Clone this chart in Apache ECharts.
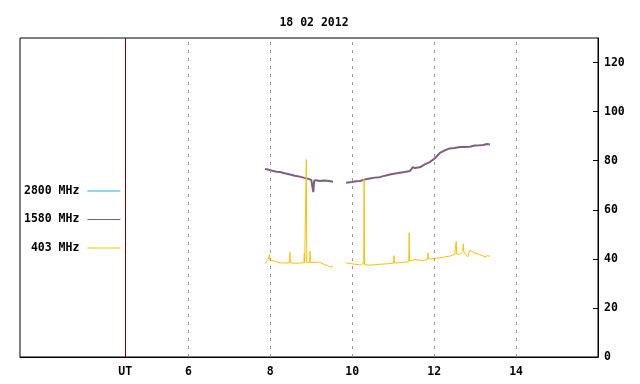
<!DOCTYPE html>
<html>
<head>
<meta charset="utf-8">
<script src="https://cdn.jsdelivr.net/npm/echarts@6/dist/echarts.min.js"></script>
<style>
    html, body {margin: 0; padding: 0; background: #fff;}
    #chartDiv {width: 640px; height: 384px;}
</style>
</head>
<body>
<div id="chartDiv"></div>
<script>
/*
* 数据
* */
var titleText = '18 02 2012';
var seriesNames = ['2800 MHz', '1580 MHz', '403 MHz'];
var seriesColors = ['#22b4c4', '#7f5f80', '#ffbf00'];
var hourTicks = [6, 8, 10, 12, 14];
var utHour = 4.46;

// 2800 MHz -- 图中没有数据
var hours2800 = [];
var values2800 = [];

// 1580 MHz
var hours1580 = [7.87, 7.94, 8.05, 8.15, 8.24, 8.35, 8.48, 8.60, 8.72, 8.83, 8.93, 9.00, 9.05, 9.07, 9.12, 9.21, 9.30, 9.40, 9.53,
    null,
    9.85, 9.99, 10.10, 10.19, 10.30, 10.43, 10.55, 10.67, 10.80, 10.92, 11.05, 11.16, 11.28, 11.41, 11.48, 11.53, 11.65, 11.77,
    11.89, 12.02, 12.14, 12.26, 12.38, 12.50, 12.63, 12.75, 12.87, 12.99, 13.11, 13.20, 13.29, 13.36];
var values1580 = [76.6, 76.4, 75.9, 75.5, 75.4, 74.9, 74.4, 73.9, 73.5, 73.0, 72.6, 72.2, 67.2, 71.8, 72.0, 71.7, 71.9, 71.8, 71.4,
    null,
    71.0, 71.3, 71.6, 71.7, 72.3, 72.7, 73.1, 73.3, 73.9, 74.4, 74.8, 75.1, 75.4, 75.8, 77.4, 77.0, 77.3, 78.5,
    79.4, 81.0, 83.2, 84.2, 85.0, 85.2, 85.6, 85.6, 85.7, 86.2, 86.3, 86.4, 86.8, 86.6];

// 403 MHz
var hours403 = [7.87, 7.94, 7.97, 7.98, 7.99, 8.07, 8.15, 8.24, 8.35, 8.47, 8.48, 8.49, 8.60, 8.72, 8.82, 8.83, 8.84, 8.87, 8.88, 8.89,
    8.96, 8.97, 8.98, 9.05, 9.14, 9.21, 9.33, 9.40, 9.46, 9.53,
    null,
    9.85, 9.99, 10.10, 10.20, 10.28, 10.29, 10.30, 10.43, 10.55, 10.67, 10.80, 10.92, 11.01, 11.02, 11.03, 11.16, 11.28,
    11.38, 11.39, 11.40, 11.48, 11.53, 11.65, 11.77, 11.84, 11.85, 11.86, 11.94, 12.02, 12.14, 12.26, 12.38, 12.50,
    12.53, 12.54, 12.55, 12.63, 12.70, 12.71, 12.72, 12.82, 12.87, 12.99, 13.11, 13.24, 13.30, 13.36];
var values403 = [38.1, 39.4, 39.6, 41.8, 39.5, 39.3, 38.8, 38.4, 38.3, 38.4, 42.7, 38.4, 38.2, 38.3, 38.4, 42.2, 38.4, 38.5, 80.5, 38.5,
    38.6, 43.1, 38.5, 38.5, 38.6, 38.6, 37.6, 37.2, 36.7, 37.0,
    null,
    38.4, 38.0, 37.7, 37.5, 38.3, 72.4, 37.6, 37.4, 37.6, 37.8, 37.9, 38.1, 38.3, 41.3, 38.3, 38.4, 38.6,
    38.9, 50.6, 39.2, 39.5, 39.7, 39.4, 39.4, 39.8, 42.4, 40.0, 40.0, 40.2, 40.4, 40.8, 41.1, 41.8,
    41.8, 47.1, 42.0, 41.8, 43.0, 46.1, 43.1, 40.8, 43.5, 42.4, 41.8, 40.8, 41.3, 41.0];

var monoFont = 'DejaVu Sans Mono';
var fontSize = 11.5;

/*
* 把时间与数值合成点，null 处断开
* */
function makePoints(hours, values) {
    var points = [];
    for (var i = 0; i < hours.length; i++) {
        if (hours[i] === null) {
            points.push([(hours[i - 1] + hours[i + 1]) / 2, '-']);
        } else {
            points.push([hours[i], values[i]]);
        }
    }
    return points;
}

function makeSeries(name, color, points, width) {
    return {
        name: name,
        type: 'line',
        data: points,
        showSymbol: false,
        symbol: 'none',
        connectNulls: false,
        animation: false,
        itemStyle: {color: color},
        lineStyle: {color: color, width: width}
    };
}

/*
* 画图
* */
function drawChart() {
    var chartDiv = document.getElementById('chartDiv');
    var chart = echarts.init(chartDiv);

    // 竖直虚线和 UT 线
    var gridLines = [];
    for (var i = 0; i < hourTicks.length; i++) {
        gridLines.push({xAxis: hourTicks[i]});
    }

    var helperSeries = {
        name: 'helper',
        type: 'line',
        data: [],
        silent: true,
        animation: false,
        markLine: {
            silent: true,
            symbol: 'none',
            animation: false,
            label: {show: false},
            lineStyle: {color: '#999', type: [3, 5], width: 1},
            data: gridLines.concat([{xAxis: utHour, lineStyle: {color: '#7a0000', type: 'solid', width: 1}}])
        }
    };

    var textStyle = {fontFamily: monoFont, fontSize: fontSize, fontWeight: 'bold', color: '#000'};

    var option = {
        backgroundColor: '#fff',
        title: {
            text: titleText,
            left: 309,
            textAlign: 'center',
            top: 12,
            textStyle: textStyle
        },
        legend: {
            data: seriesNames,
            orient: 'vertical',
            left: 24,
            top: 184,
            padding: 0,
            align: 'right',
            itemGap: 14.5,
            itemWidth: 33,
            itemHeight: 1,
            icon: 'rect',
            selectedMode: false,
            formatter: function (name) {
                return name.padStart(8, ' ');
            },
            textStyle: {fontFamily: monoFont, fontSize: fontSize, fontWeight: 'bold', color: '#000', lineHeight: 14, padding: [0, 3, 0, 0]}
        },
        grid: {
            left: 20,
            right: 42,
            top: 38,
            bottom: 27,
            show: true,
            borderColor: '#000',
            borderWidth: 1
        },
        xAxis: {
            type: 'value',
            min: 1.89,
            max: 16,
            axisLine: {show: true, lineStyle: {color: '#000'}},
            axisTick: {show: false},
            splitLine: {show: false},
            axisLabel: {
                customValues: [utHour].concat(hourTicks),
                margin: 9,
                fontFamily: monoFont,
                fontSize: fontSize,
                fontWeight: 'bold',
                color: '#000',
                formatter: function (v) {
                    if (Math.abs(v - utHour) < 0.01) {
                        return '{ut|UT}';
                    }
                    return String(v);
                },
                rich: {
                    ut: {fontFamily: monoFont, fontSize: fontSize, fontWeight: 'bold', color: '#000', padding: [0, 0, 5, 0]}
                }
            }
        },
        yAxis: {
            type: 'value',
            position: 'right',
            min: 0,
            max: 130,
            interval: 20,
            axisLine: {show: true, lineStyle: {color: '#000'}},
            axisTick: {show: true, inside: true, length: 5, lineStyle: {color: '#000'}},
            splitLine: {show: false},
            axisLabel: {
                margin: 6,
                fontFamily: monoFont,
                fontSize: fontSize,
                fontWeight: 'bold',
                color: '#000',
                showMaxLabel: false
            }
        },
        series: [
            helperSeries,
            makeSeries(seriesNames[0], seriesColors[0], makePoints(hours2800, values2800), 1),
            makeSeries(seriesNames[1], seriesColors[1], makePoints(hours1580, values1580), 2),
            makeSeries(seriesNames[2], seriesColors[2], makePoints(hours403, values403), 1)
        ]
    };
    chart.setOption(option);
}

drawChart();
</script>
</body>
</html>
